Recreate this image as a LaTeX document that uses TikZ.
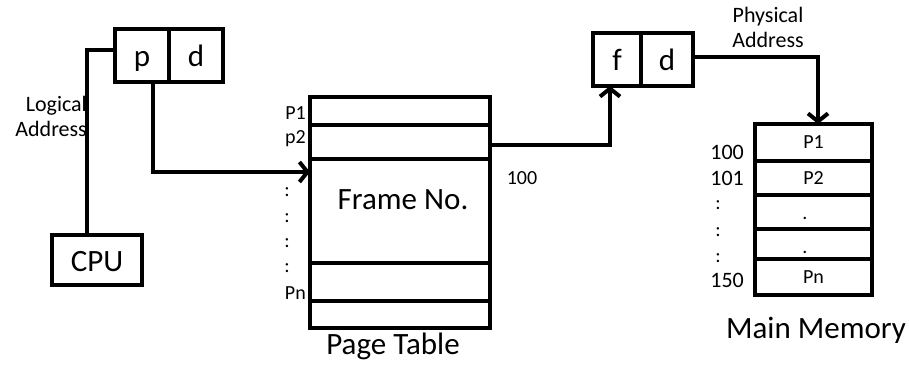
\documentclass[tikz,border=0pt]{standalone}
\usepackage{fontspec}
\setmainfont{Carlito}
\usetikzlibrary{arrows.meta}
\tikzset{
  box/.style={draw, line width=4pt, inner sep=0pt, outer sep=0pt},
  conn/.style={line width=4pt},
  arr/.style={line width=4pt, -{Straight Barb[length=8pt,width=20pt]}},
  big/.style={font=\fontsize{31}{34}\selectfont, inner sep=0pt},
  boxtext/.style={text height=22pt, text depth=0pt},
  small/.style={font=\fontsize{22}{25}\selectfont, inner sep=0pt},
  tiny/.style={font=\fontsize{20}{22}\selectfont, inner sep=0pt},
}
\begin{document}
\begin{tikzpicture}[x=1pt,y=-1pt]
\useasboundingbox (0,0) rectangle (909,364);
% logical address
\node[box, minimum width=54pt, minimum height=53pt, big, boxtext] (p) at (142,55.5) {p};
\node[box, minimum width=54pt, minimum height=53pt, big, boxtext] (d) at (196,55.5) {d};
\node[box, minimum width=90pt, minimum height=50pt, big, boxtext] (cpu) at (97,260) {CPU};
\node[small, anchor=east, align=right] (la) at (87,116) {Logical\\Address};
% page table
\node[box, minimum width=180pt, minimum height=28pt] (r1) at (400,111) {};
\node[box, minimum width=180pt, minimum height=34pt] (r2) at (400,142) {};
\node[box, minimum width=180pt, minimum height=104pt] (r3) at (400,211) {};
\node[box, minimum width=180pt, minimum height=38pt] (r4) at (400,282) {};
\node[box, minimum width=180pt, minimum height=27pt] (r5) at (400,314.5) {};
\node[big] (fn) at (403,200) {Frame No.};
\node[big] (pt) at (393,346) {Page Table};
\node[tiny, anchor=east] (lp1) at (306,113) {P1};
\node[tiny, anchor=east] (lp2) at (306,139) {p2};
\node[tiny, anchor=east] (lpn) at (306,293) {Pn};
\node[tiny] (c1) at (287,192) {:};
\node[tiny] (c2) at (287,218) {:};
\node[tiny] (c3) at (287,243) {:};
\node[tiny] (c4) at (287,268) {:};
\node[tiny] (hund) at (522,178) {100};
% physical address
\node[box, minimum width=48pt, minimum height=53pt, big, boxtext] (f) at (617,59.5) {f};
\node[box, minimum width=52pt, minimum height=53pt, big, boxtext] (d2) at (667,59.5) {d};
\node[small, align=center] (pa) at (768,27) {Physical\\Address};
% main memory
\node[box, minimum width=117pt, minimum height=37pt, tiny] (m1) at (813.5,142.5) {P1};
\node[box, minimum width=117pt, minimum height=34pt, tiny] (m2) at (813.5,178) {P2};
\node[box, minimum width=117pt, minimum height=34pt] (m3) at (813.5,212) {};
\node[box, minimum width=117pt, minimum height=30pt] (m4) at (813.5,244) {};
\node[box, minimum width=117pt, minimum height=36pt, tiny] (m5) at (813.5,277) {Pn};
\node[tiny] (md1) at (805,218) {.};
\node[tiny] (md2) at (805,252) {.};
\node[small, anchor=east] (a100) at (744,152) {100};
\node[small, anchor=east] (a101) at (744,178) {101};
\node[small, anchor=east] (a150) at (744,280) {150};
\node[tiny] (e1) at (718,205) {:};
\node[tiny] (e2) at (718,232) {:};
\node[tiny] (e3) at (718,258) {:};
\node[big] (mm) at (816,330) {Main Memory};
% connectors
\draw[conn] ([xshift=-10pt]cpu.north) |- ([yshift=5.5pt]p.west);
\draw[arr] ([xshift=11pt]p.south) |- ([yshift=39pt]r3.west);
\draw[arr] ([yshift=-3pt]r2.east) -| ([xshift=-7pt]f.south);
\draw[arr] ([yshift=2.5pt]d2.east) -| ([xshift=4.5pt]m1.north);
\end{tikzpicture}
\end{document}
